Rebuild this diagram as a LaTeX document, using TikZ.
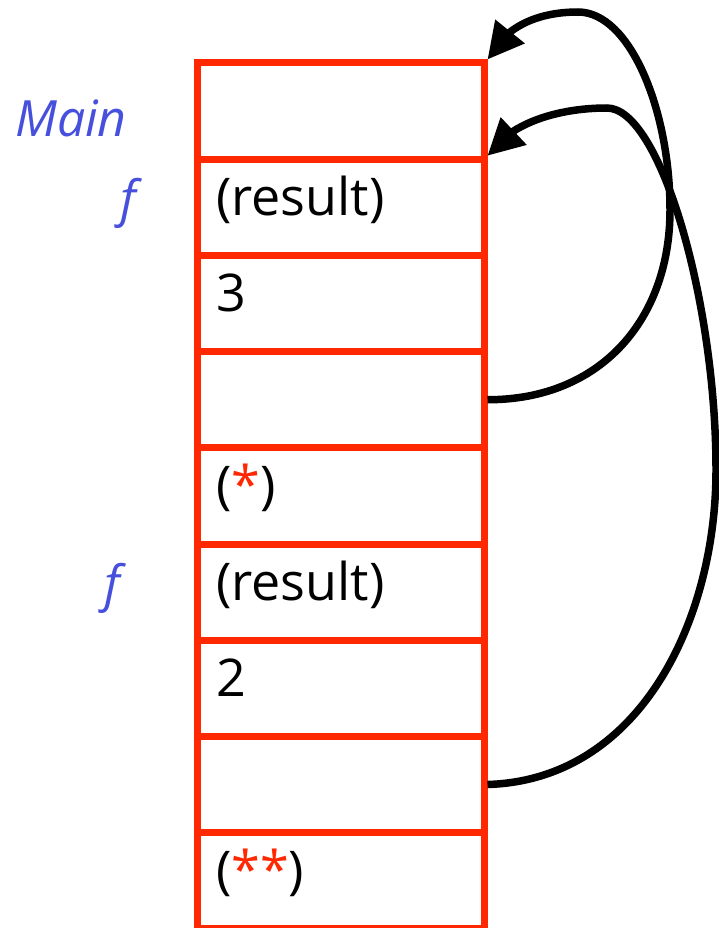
\documentclass[tikz,border=0pt]{standalone}
\usepackage{fontspec}
\setmainfont{Open Sans}
\usetikzlibrary{arrows.meta,bending}
\definecolor{stackred}{RGB}{255,40,0}
\definecolor{lblblue}{RGB}{70,80,220}
\begin{document}
\begin{tikzpicture}[x=1pt,y=-1pt,
  cell/.style={rectangle,draw=stackred,line width=7pt,minimum width=287pt,minimum height=96.2pt,inner sep=0pt},
  val/.style={anchor=base west,font=\fontsize{52}{58}\selectfont,inner sep=0pt},
  fname/.style={anchor=base west,font=\fontsize{50}{58}\selectfont\itshape,text=lblblue,inner sep=0pt},
  link/.style={line width=7.5pt,-{Triangle[length=36pt,width=36pt,flex]}}]
\useasboundingbox (0,0) rectangle (719,928);
\foreach \i in {1,...,9} \node[cell] (c\i) at (340.5,{63+96.2*(\i-0.5)}) {};
\node[fname] (lmain) at (15,137) {Main};
\node[fname] (lf1) at (120,216) {f};
\node[fname] (lf2) at (104,601) {f};
\node[val] (t2) at (216,215) {(result)};
\node[val] (t3) at (216,311.4) {3};
\node[val] (t5) at (216,503.8) {(\textcolor{stackred}{*})};
\node[val] (t6) at (216,600) {(result)};
\node[val] (t7) at (216,696.2) {2};
\node[val] (t9) at (216,888.6) {(\textcolor{stackred}{**})};
\draw[link] (c4.east) .. controls (600,400) and (670,320) .. (670,210)
  .. controls (670,110) and (630,12) .. (578,12)
  .. controls (540,12) and (505,25) .. (c1.north east);
\draw[link] (c8.east) .. controls (640,780) and (716,620) .. (716,470)
  .. controls (716,300) and (660,108) .. (607,108)
  .. controls (560,108) and (510,122) .. (c2.north east);
\end{tikzpicture}
\end{document}
